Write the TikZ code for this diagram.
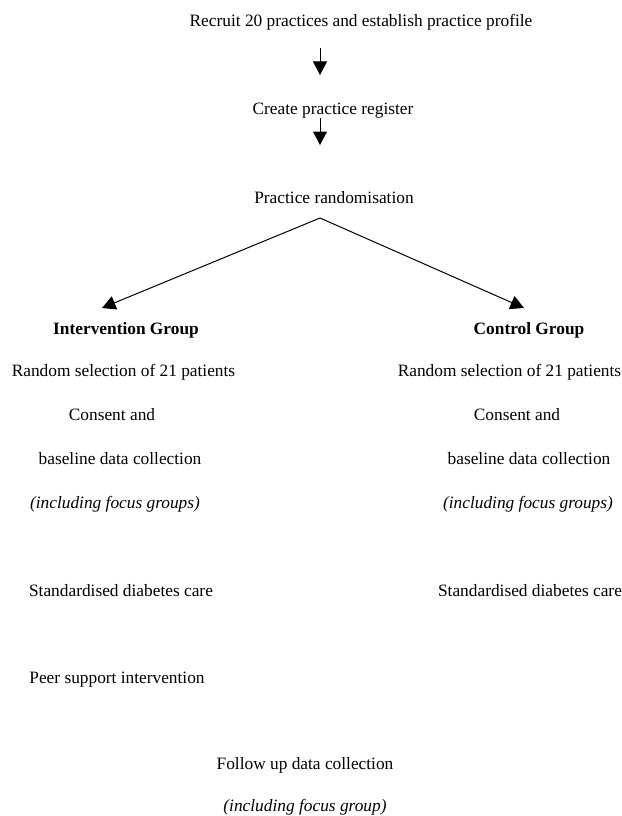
\documentclass[tikz,border=0pt]{standalone}
\usepackage{fontspec}
\setmainfont{Liberation Serif}
\usetikzlibrary{arrows.meta}
\tikzset{
  lbl/.style={inner sep=0pt, anchor=base, font=\fontsize{17.4}{20}\selectfont},
  hd/.style={lbl, font=\fontsize{17.4}{20}\selectfont\bfseries},
  it/.style={lbl, font=\fontsize{17.4}{20}\selectfont\itshape},
  arr/.style={line width=1bp, -{Triangle[length=13.5bp,width=14bp]}},
}
\begin{document}
\begin{tikzpicture}[x=1bp,y=-1bp]
\useasboundingbox (0,0) rectangle (622,816);
\node[lbl] (rec) at (361,27) {Recruit 20 practices and establish practice profile};
\node[lbl] (create) at (333,114) {Create practice register};
\node[lbl] (rand) at (334,203) {Practice randomisation};
\node[hd] (intv) at (126,334) {Intervention Group};
\node[hd] (ctrl) at (529,334) {Control Group};
\node[lbl] (rsL) at (123.5,376) {Random selection of 21 patients};
\node[lbl] (rsR) at (509.5,376) {Random selection of 21 patients};
\node[lbl] (caL) at (112,420) {Consent and};
\node[lbl] (caR) at (517,420) {Consent and};
\node[lbl] (bdL) at (120,464) {baseline data collection};
\node[lbl] (bdR) at (529,464) {baseline data collection};
\node[it] (fgL) at (115,508) {(including focus groups)};
\node[it] (fgR) at (528,508) {(including focus groups)};
\node[lbl] (sdL) at (121,596) {Standardised diabetes care};
\node[lbl] (sdR) at (530,596) {Standardised diabetes care};
\node[lbl] (peer) at (117,683) {Peer support intervention};
\node[lbl] (fu) at (305,769) {Follow up data collection};
\node[it] (fug) at (305,811) {(including focus group)};
\coordinate (a1s) at (320,48);
\coordinate (a1e) at (320,75);
\coordinate (a2s) at (320,118);
\coordinate (a2e) at (320,145);
\coordinate (apex) at (320,218);
\coordinate (lt) at (102,308);
\coordinate (rt) at (524,308);
\draw[arr] (a1s) -- (a1e);
\draw[arr] (a2s) -- (a2e);
\draw[arr] (apex) -- (lt);
\draw[arr] (apex) -- (rt);
\end{tikzpicture}
\end{document}
